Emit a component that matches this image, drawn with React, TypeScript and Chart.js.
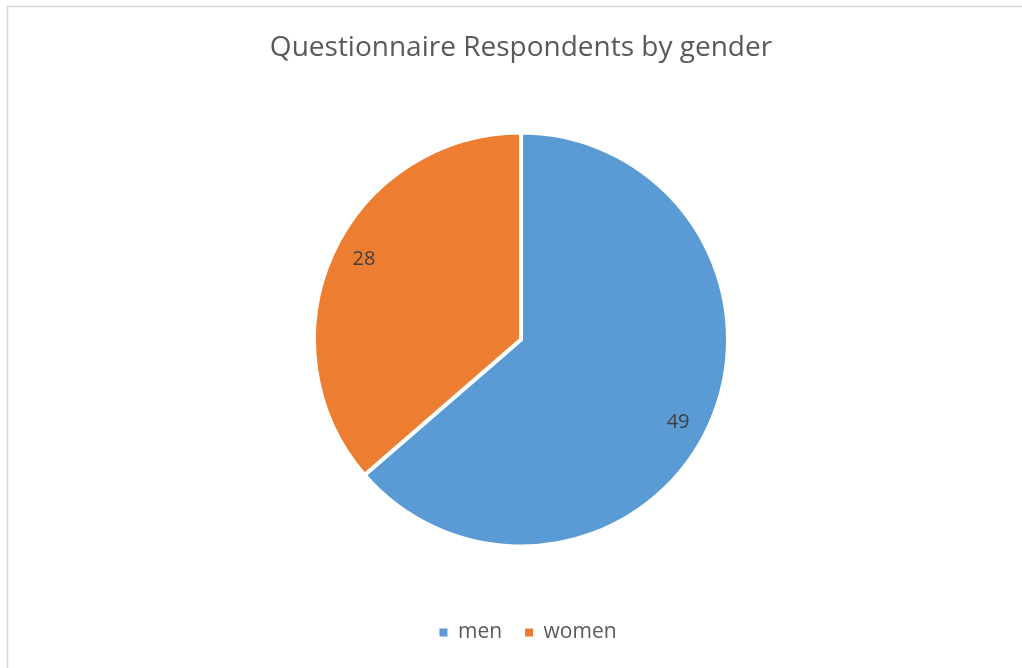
import React, { useEffect, useRef } from "react";
import { Chart, registerables } from "chart.js";

Chart.register(...registerables);

const categories = ["men", "women"];
const respondents = [49, 28];
const sliceColors = ["#5B9BD5", "#ED7D31"];
const titleText = "Questionnaire Respondents by gender";

const FONT = "'Open Sans', 'Noto Sans', sans-serif";

const frameBorder = {
  id: "frameBorder",
  beforeDraw(chart: any) {
    const ctx = chart.ctx;
    ctx.save();
    ctx.fillStyle = "#ffffff";
    ctx.fillRect(0, 0, chart.width, chart.height);
    ctx.strokeStyle = "#d6d6d6";
    ctx.lineWidth = 1.5;
    ctx.beginPath();
    ctx.moveTo(7.5, chart.height);
    ctx.lineTo(7.5, 6.5);
    ctx.lineTo(chart.width, 6.5);
    ctx.stroke();
    ctx.restore();
  },
};

const legendShift = {
  id: "legendShift",
  afterLayout(chart: any) {
    if (chart.legend) {
      chart.legend.left += 7;
      chart.legend.right += 7;
    }
  },
};

const sliceLabels = {
  id: "sliceLabels",
  afterDatasetsDraw(chart: any) {
    const ctx = chart.ctx;
    const meta = chart.getDatasetMeta(0);
    const data = chart.data.datasets[0].data;
    ctx.save();
    ctx.font = `20px ${FONT}`;
    ctx.fillStyle = "#404040";
    ctx.textAlign = "center";
    ctx.textBaseline = "middle";
    meta.data.forEach((arc: any, i: number) => {
      const p = arc.getProps(["x", "y", "startAngle", "endAngle", "outerRadius"], true);
      const mid = (p.startAngle + p.endAngle) / 2 + 0.05;
      const r = p.outerRadius * 0.855;
      ctx.fillText(String(data[i]), p.x + Math.cos(mid) * r, p.y + Math.sin(mid) * r + 1);
    });
    ctx.restore();
  },
};

export default function App() {
  const ref = useRef<HTMLCanvasElement>(null);
  useEffect(() => {
    const canvas = ref.current!;
    const chart = new Chart(canvas, {
      type: "pie",
      data: {
        labels: categories,
        datasets: [
          {
            data: respondents,
            backgroundColor: sliceColors,
            borderColor: "#ffffff",
            borderWidth: 4,
            hoverOffset: 0,
            radius: 207,
          } as any,
        ],
      },
      options: {
        animation: false,
        responsive: false,
        maintainAspectRatio: false,
        devicePixelRatio: 1,
        layout: {
          autoPadding: false,
          padding: { left: 20, right: 0, top: 0, bottom: 15 },
        } as any,
        plugins: {
          title: {
            display: true,
            text: titleText,
            color: "#595959",
            font: { family: FONT, size: 28, weight: "normal" as any },
            padding: { top: 31, bottom: 15.4 },
          },
          legend: {
            display: true,
            position: "bottom",
            labels: {
              color: "#595959",
              font: { family: FONT, size: 21 },
              boxWidth: 8,
              boxHeight: 8,
              padding: 23,
              generateLabels(c: any) {
                const items = Chart.overrides.pie.plugins.legend.labels.generateLabels(c);
                return items.map((it: any) => ({ ...it, lineWidth: 0, strokeStyle: "transparent" }));
              },
            },
          },
          tooltip: { enabled: false },
        },
      },
      plugins: [frameBorder, legendShift, sliceLabels],
    });
    return () => chart.destroy();
  }, []);
  return (
    <canvas
      ref={ref}
      width={1022}
      height={668}
      style={{ position: "fixed", left: 0, top: 0, width: 1022, height: 668 }}
    />
  );
}
